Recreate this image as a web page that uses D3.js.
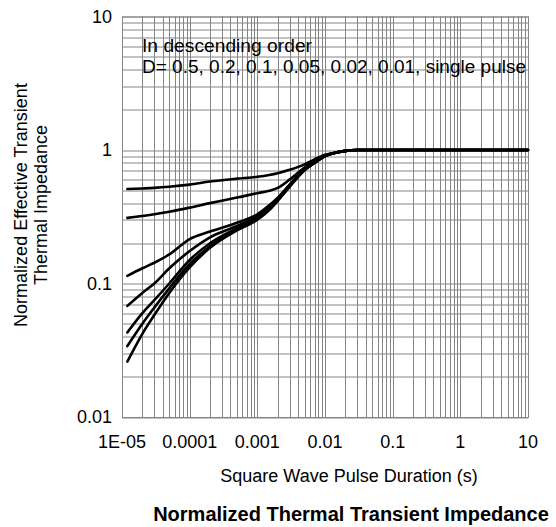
<!DOCTYPE html>
<html>
<head>
<meta charset="utf-8">
<script src="https://cdn.jsdelivr.net/npm/d3@7"></script>
<style>
  body { margin: 0; background: #fff; }
  text { font-family: "Liberation Sans", Arial, sans-serif; fill: #000; }
</style>
</head>
<body>
<svg id="chart" width="556" height="527"></svg>
<script>
// pulse durations (s), shared by every curve
var durations = [1.2e-5, 2e-5, 3e-5, 5e-5, 1e-4, 2e-4, 5e-4, 1e-3, 1.5e-3, 2e-3, 3e-3, 5e-3, 7e-3, 1e-2, 1.5e-2, 2e-2, 3e-2, 0.1, 1, 10];

// normalized Zth for each duty cycle
var d05    = [0.51, 0.515, 0.52, 0.53, 0.55, 0.58, 0.61, 0.63, 0.65, 0.67, 0.71, 0.78, 0.85, 0.92, 0.96, 0.985, 1, 1, 1, 1];
var d02    = [0.31, 0.32, 0.33, 0.345, 0.37, 0.40, 0.44, 0.475, 0.495, 0.52, 0.60, 0.74, 0.83, 0.91, 0.96, 0.985, 1, 1, 1, 1];
var d01    = [0.114, 0.13, 0.143, 0.165, 0.215, 0.245, 0.285, 0.33, 0.385, 0.44, 0.55, 0.72, 0.81, 0.90, 0.96, 0.985, 1, 1, 1, 1];
var d005   = [0.068, 0.085, 0.10, 0.13, 0.175, 0.222, 0.27, 0.32, 0.375, 0.43, 0.545, 0.715, 0.805, 0.90, 0.96, 0.985, 1, 1, 1, 1];
var d002   = [0.043, 0.06, 0.075, 0.10, 0.15, 0.20, 0.26, 0.31, 0.365, 0.425, 0.54, 0.71, 0.80, 0.90, 0.96, 0.985, 1, 1, 1, 1];
var d001   = [0.034, 0.05, 0.066, 0.092, 0.14, 0.19, 0.255, 0.305, 0.36, 0.42, 0.535, 0.71, 0.80, 0.90, 0.96, 0.985, 1, 1, 1, 1];
var single = [0.026, 0.042, 0.058, 0.085, 0.132, 0.185, 0.25, 0.30, 0.355, 0.415, 0.53, 0.705, 0.80, 0.90, 0.96, 0.985, 1, 1, 1, 1];

var xTicks = [1e-5, 1e-4, 1e-3, 1e-2, 0.1, 1, 10];
var xTickLabels = ['1E-05', '0.0001', '0.001', '0.01', '0.1', '1', '10'];
var yTicks = [0.01, 0.1, 1, 10];
var yTickLabels = ['0.01', '0.1', '1', '10'];

(function draw() {

  var svg = d3.select('#chart'),
      margin = { top: 16.5, right: 28, bottom: 110, left: 122 },
      width = +svg.attr('width') - margin.left - margin.right,
      height = +svg.attr('height') - margin.top - margin.bottom,
      g = svg.append('g').attr('transform', 'translate(' + margin.left + ',' + margin.top + ')');

  var x = d3.scaleLog().domain([1e-5, 10]).range([0, width]);
  var y = d3.scaleLog().domain([0.01, 10]).range([height, 0]);

  var grid = '#858585';

  // grid, every 1..9 multiple
  g.append('g')
    .selectAll('line')
    .data(x.ticks())
    .enter().append('line')
      .attr('x1', function(d) { return Math.round(x(d)) + 0.5; })
      .attr('x2', function(d) { return Math.round(x(d)) + 0.5; })
      .attr('y1', 0)
      .attr('y2', height)
      .attr('stroke', grid)
      .attr('stroke-width', 1);

  g.append('g')
    .selectAll('line')
    .data(y.ticks())
    .enter().append('line')
      .attr('y1', function(d) { return Math.round(y(d)) + 0.5; })
      .attr('y2', function(d) { return Math.round(y(d)) + 0.5; })
      .attr('x1', 0)
      .attr('x2', width)
      .attr('stroke', grid)
      .attr('stroke-width', 1);

  g.append('rect')
    .attr('x', 0.5)
    .attr('y', 0.5)
    .attr('width', width)
    .attr('height', height)
    .attr('fill', 'none')
    .attr('stroke', grid);

  // tick labels
  g.append('g')
    .attr('font-size', 18)
    .attr('text-anchor', 'middle')
    .selectAll('text')
    .data(xTicks)
    .enter().append('text')
      .attr('x', function(d) { return x(d); })
      .attr('y', height + 31)
      .text(function(d, i) { return xTickLabels[i]; });

  g.append('g')
    .attr('font-size', 18)
    .attr('text-anchor', 'end')
    .selectAll('text')
    .data(yTicks)
    .enter().append('text')
      .attr('x', -10)
      .attr('y', function(d) { return y(d); })
      .attr('dy', '0.35em')
      .text(function(d, i) { return yTickLabels[i]; });

  // curves
  var series = [d05, d02, d01, d005, d002, d001, single];
  var line = d3.line()
      .x(function(d, i) { return x(durations[i]); })
      .y(function(d) { return y(d); })
      .curve(d3.curveMonotoneX);

  g.append('g')
    .selectAll('path')
    .data(series)
    .enter().append('path')
      .attr('d', line)
      .attr('fill', 'none')
      .attr('stroke', '#000')
      .attr('stroke-width', 2.6)
      .attr('stroke-linejoin', 'round')
      .attr('stroke-linecap', 'round');

  // note inside the plot
  svg.append('text')
    .attr('x', 142)
    .attr('y', 52)
    .attr('font-size', 18)
    .attr('textLength', 170)
    .attr('lengthAdjust', 'spacingAndGlyphs')
    .text('In descending order');

  svg.append('text')
    .attr('x', 142)
    .attr('y', 73)
    .attr('font-size', 18)
    .attr('textLength', 384)
    .attr('lengthAdjust', 'spacingAndGlyphs')
    .text('D= 0.5, 0.2, 0.1, 0.05, 0.02, 0.01, single pulse');

  // axis titles
  svg.append('text')
    .attr('x', 349)
    .attr('y', 482)
    .attr('font-size', 18)
    .attr('text-anchor', 'middle')
    .text('Square Wave Pulse Duration (s)');

  var yt = svg.append('text')
    .attr('transform', 'translate(27,205) rotate(-90)')
    .attr('font-size', 18)
    .attr('text-anchor', 'middle');
  yt.append('tspan').attr('x', 0).attr('y', 0).text('Normalized Effective Transient');
  yt.append('tspan').attr('x', 0).attr('y', 20).text('Thermal Impedance');

  svg.append('text')
    .attr('x', 351)
    .attr('y', 521)
    .attr('font-size', 20)
    .attr('font-weight', 'bold')
    .attr('text-anchor', 'middle')
    .text('Normalized Thermal Transient Impedance');
})();
</script>
</body>
</html>
